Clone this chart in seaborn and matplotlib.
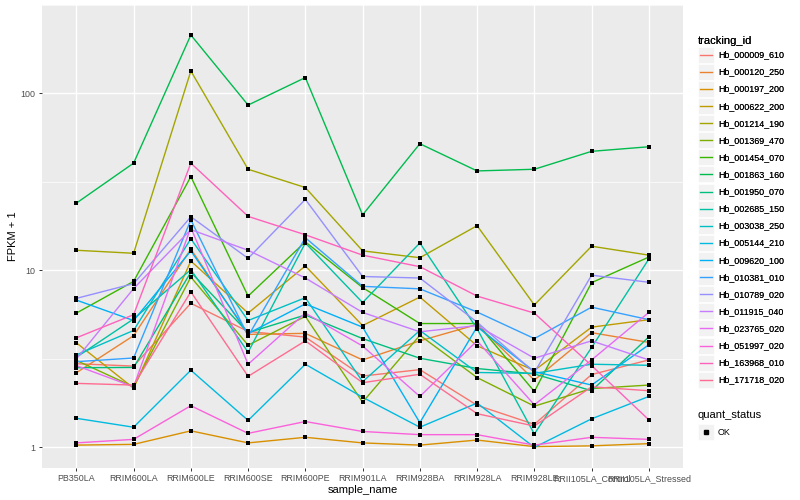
import numpy as np
import pandas as pd
import matplotlib
matplotlib.use("Agg")
import matplotlib.pyplot as plt
import seaborn as sns
from matplotlib.lines import Line2D
from matplotlib.patches import Rectangle
from matplotlib.legend_handler import HandlerBase

# samples on the x axis
samples = ["PB350LA", "RRIM600LA", "RRIM600LE", "RRIM600SE", "RRIM600PE",
           "RRIM901LA", "RRIM928BA", "RRIM928LA", "RRIM928LE",
           "RRII105LA_Control", "RRII105LA_Stressed"]

# FPKM + 1 per gene (one value per sample)
hb_000009_610 = [2.97, 2.88, 6.52, 4.52, 4.2, 2.53, 2.75, 1.73, 1.35, 2.58, 3.12]
hb_000120_250 = [2.64, 4.28, 13.2, 4.35, 4.41, 3.12, 4.0, 4.95, 2.40, 4.45, 3.92]
hb_000197_200 = [1.03, 1.04, 1.24, 1.06, 1.14, 1.06, 1.03, 1.10, 1.01, 1.02, 1.05]
hb_000622_200 = [3.9, 2.16, 11.3, 5.74, 10.6, 4.88, 7.07, 3.75, 2.72, 4.78, 5.27]
hb_001214_190 = [13.0, 12.5, 134, 37.3, 29.4, 12.9, 11.8, 17.9, 6.38, 13.7, 12.2]
hb_001369_470 = [3.10, 2.2, 9.17, 3.78, 5.5, 1.80, 4.30, 2.48, 1.71, 2.15, 2.25]
hb_001454_070 = [5.74, 8.67, 33.9, 7.16, 14.5, 8.0, 5.01, 5.01, 2.07, 8.53, 11.9]
hb_001863_160 = [24, 40.4, 214, 86, 123, 20.6, 52, 36.5, 37.3, 47.1, 50]
hb_001950_070 = [2.82, 2.83, 9.77, 4.45, 5.6, 4.12, 3.19, 2.79, 2.6, 2.09, 4.21]
hb_002685_150 = [3.23, 5.32, 10.1, 3.45, 14.3, 6.58, 14.3, 4.68, 1.19, 3.67, 11.6]
hb_003038_250 = [3.33, 4.58, 15.1, 5.21, 7.01, 2.35, 4.58, 2.65, 2.62, 2.95, 2.91]
hb_005144_210 = [1.46, 1.30, 2.73, 1.42, 2.95, 1.92, 1.30, 1.78, 1.0, 1.45, 1.94]
hb_009620_100 = [6.8, 5.21, 12.9, 4.4, 6.47, 4.78, 1.38, 4.8, 2.68, 2.25, 3.8]
hb_010381_010 = [3.05, 3.2, 19.3, 4.25, 15.3, 8.13, 7.87, 5.82, 4.12, 6.2, 5.27]
hb_010789_020 = [6.95, 8.42, 20.1, 11.7, 25.2, 9.24, 9.06, 5.10, 2.65, 9.4, 8.57]
hb_011915_040 = [3.16, 7.9, 17.0, 13.0, 9.06, 5.79, 4.5, 4.88, 3.19, 4.0, 3.12]
hb_023765_020 = [2.9, 2.2, 17.5, 2.95, 5.74, 3.74, 1.94, 4.0, 1.74, 3.12, 5.79]
hb_051997_020 = [1.06, 1.11, 1.72, 1.20, 1.40, 1.23, 1.18, 1.18, 1.03, 1.14, 1.11]
hb_163968_010 = [4.16, 5.62, 40.4, 20.2, 15.9, 12.2, 10.5, 7.16, 5.74, 2.9, 1.43]
hb_171718_020 = [2.30, 2.25, 7.57, 2.52, 4.0, 2.32, 2.59, 1.55, 1.32, 2.2, 2.09]

genes = {
    "Hb_000009_610": hb_000009_610, "Hb_000120_250": hb_000120_250,
    "Hb_000197_200": hb_000197_200, "Hb_000622_200": hb_000622_200,
    "Hb_001214_190": hb_001214_190, "Hb_001369_470": hb_001369_470,
    "Hb_001454_070": hb_001454_070, "Hb_001863_160": hb_001863_160,
    "Hb_001950_070": hb_001950_070, "Hb_002685_150": hb_002685_150,
    "Hb_003038_250": hb_003038_250, "Hb_005144_210": hb_005144_210,
    "Hb_009620_100": hb_009620_100, "Hb_010381_010": hb_010381_010,
    "Hb_010789_020": hb_010789_020, "Hb_011915_040": hb_011915_040,
    "Hb_023765_020": hb_023765_020, "Hb_051997_020": hb_051997_020,
    "Hb_163968_010": hb_163968_010, "Hb_171718_020": hb_171718_020,
}
ids = list(genes.keys())

# paleta hue por defecto de ggplot2 con 20 niveles
colores = ["#F8766D", "#EA8331", "#D89000", "#C09B00", "#A3A500", "#7CAE00",
           "#39B600", "#00BB4E", "#00BF7D", "#00C1A3", "#00BFC4", "#00BAE0",
           "#00B0F6", "#35A2FF", "#9590FF", "#C77CFF", "#E76BF3", "#FA62DB",
           "#FF62BC", "#FF6C91"]

filas = []
for gid, vals in genes.items():
    for s, v in zip(samples, vals):
        filas.append({"tracking_id": gid, "sample_name": s, "fpkm": v, "quant_status": "OK"})
df = pd.DataFrame(filas)

plt.rcParams["font.family"] = ["Liberation Sans", "DejaVu Sans"]

fig = plt.figure(figsize=(8, 5), dpi=100)
ax = fig.add_axes([0.0525, 0.064, 0.8015, 0.926])
ax.set_facecolor("#EBEBEB")

sns.lineplot(data=df, x="sample_name", y="fpkm", hue="tracking_id", hue_order=ids,
             palette=colores, sort=False, estimator=None, lw=1.0, ax=ax, legend=False)
sns.scatterplot(data=df, x="sample_name", y="fpkm", color="black", marker="s",
                s=7, linewidth=0, ax=ax, legend=False, zorder=3)

ax.set_yscale("log")
lo, hi = np.log10(df["fpkm"].min()), np.log10(df["fpkm"].max())
pad = 0.05 * (hi - lo)
ax.set_ylim(10 ** (lo - pad), 10 ** (hi + pad))
ax.set_xlim(-0.6, len(samples) - 0.4)
ax.set_yticks([1, 10, 100])
ax.set_yticklabels(["1", "10", "100"])
ax.set_yticks([10 ** 0.5, 10 ** 1.5, 10 ** 2.5], minor=True)
ax.yaxis.set_minor_formatter(matplotlib.ticker.NullFormatter())

ax.grid(which="major", color="white", lw=1.0)
ax.grid(which="minor", axis="y", color="white", lw=0.5)
ax.set_axisbelow(True)
for sp in ax.spines.values():
    sp.set_visible(False)
ax.tick_params(which="major", length=2.5, width=0.7, color="#333333",
               labelsize=6.4, labelcolor="#4D4D4D", pad=2)
ax.tick_params(which="minor", length=0)
ax.set_xlabel("sample_name", fontsize=8, labelpad=1)
ax.set_ylabel("FPKM + 1", fontsize=8, labelpad=2)


class KeyHandler(HandlerBase):
    def create_artists(self, legend, orig, xd, yd, width, height, fontsize, trans):
        art = [Rectangle((-xd, -yd), width, height, facecolor="#F2F2F2",
                         edgecolor="white", lw=0.5, transform=trans)]
        if orig.get_linestyle() not in ("None", "none", ""):
            art.append(Line2D([-xd + 0.1 * width, -xd + 0.9 * width],
                              [height / 2 - yd] * 2, color=orig.get_color(),
                              lw=orig.get_linewidth(), transform=trans))
        if orig.get_marker() not in ("None", "none", "", None):
            art.append(Line2D([-xd + width / 2], [height / 2 - yd], marker=orig.get_marker(),
                              markersize=orig.get_markersize(), color=orig.get_color(),
                              ls="none", transform=trans))
        return art


h_ids = [Line2D([], [], color=c, lw=1.0) for c in colores]
leg1 = fig.legend(h_ids, ids, title="tracking_id", loc="upper left",
                  bbox_to_anchor=(0.868, 0.936), frameon=False, fontsize=6.4,
                  title_fontsize=8, handlelength=1.8, handleheight=2.4,
                  labelspacing=0.12, handletextpad=0.45, borderaxespad=0,
                  handler_map={Line2D: KeyHandler()})
leg1._legend_box.align = "left"

h_ok = [Line2D([], [], color="black", marker="s", markersize=2.5, ls="none")]
leg2 = fig.legend(h_ok, ["OK"], title="quant_status", loc="upper left",
                  bbox_to_anchor=(0.868, 0.188), frameon=False, fontsize=6.4,
                  title_fontsize=8, handlelength=1.8, handleheight=2.4,
                  handletextpad=0.45, borderaxespad=0,
                  handler_map={Line2D: KeyHandler()})
leg2._legend_box.align = "left"
fig.add_artist(leg1)

plt.savefig("out.png", dpi=100)
